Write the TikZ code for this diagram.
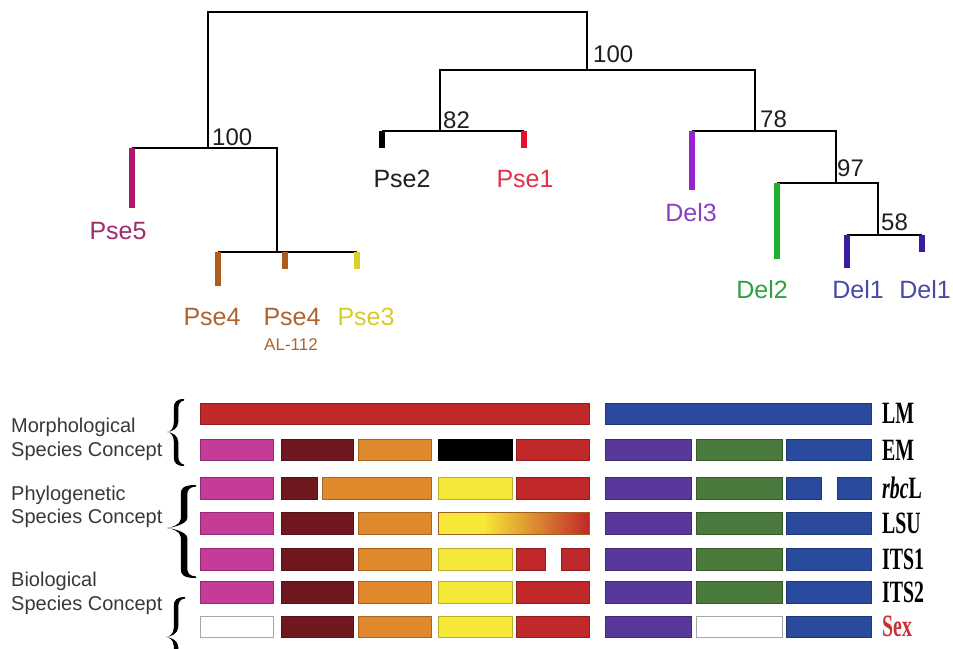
\documentclass[tikz,border=0pt]{standalone}
\usepackage{fontspec}
\setmainfont{Liberation Sans}
\newfontfamily\genefont{Liberation Serif}

% tree leaf colours
\definecolor{cPseFive}{HTML}{B0186E}
\definecolor{tPseFive}{HTML}{9C2C70}
\definecolor{cPseFour}{HTML}{B05A1C}
\definecolor{tPseFour}{HTML}{AC6430}
\definecolor{cPseThree}{HTML}{D8D030}
\definecolor{tPseThree}{HTML}{D6CC28}
\definecolor{cPseOne}{HTML}{E8102A}
\definecolor{tPseOne}{HTML}{E0304A}
\definecolor{cDelThree}{HTML}{9A20D0}
\definecolor{tDelThree}{HTML}{8A40C0}
\definecolor{cDelTwo}{HTML}{20B030}
\definecolor{tDelTwo}{HTML}{30A040}
\definecolor{cDelOne}{HTML}{3A1AA0}
\definecolor{tDelOne}{HTML}{4848A8}
% bar colours
\definecolor{barPink}{HTML}{C43C98}
\definecolor{barDark}{HTML}{701820}
\definecolor{barOrange}{HTML}{E0882C}
\definecolor{barYellow}{HTML}{F6E838}
\definecolor{barRed}{HTML}{C0282A}
\definecolor{barPurple}{HTML}{58389A}
\definecolor{barGreen}{HTML}{4A7A3C}
\definecolor{barBlue}{HTML}{2A4A9E}
\definecolor{sexRed}{HTML}{C83034}

% one coloured cell of the character table: x-from, x-to, row centre, colour
\newcommand\cell[4]{\path[cellbox=#4] (#1,#3-10.75) rectangle (#2,#3+10.75);}
% empty (white) cell
\newcommand\blankcell[3]{\path[blankbox] (#1,#3-10.75) rectangle (#2,#3+10.75);}
% tapered curly bracket: end x, spine x, tip x, top y, tip y, bottom y, stroke width
\newcommand\curlybrace[7]{%
  \fill[black] (#1,#4) .. controls (#2-#7/2+3,#4) and (#2-#7/2,#4+3) .. (#2-#7/2,#4+9)
    -- (#2-#7/2,#5-9) .. controls (#2-#7/2,#5-3) and (#3+3,#5) .. (#3,#5)
    .. controls (#3+3,#5) and (#2-#7/2,#5+3) .. (#2-#7/2,#5+9)
    -- (#2-#7/2,#6-9) .. controls (#2-#7/2,#6-3) and (#2-#7/2+3,#6) .. (#1,#6)
    -- (#1,#6-1.5) .. controls (#2+#7/2+2,#6-2) and (#2+#7/2,#6-5) .. (#2+#7/2,#6-10)
    -- (#2+#7/2,#5+10) .. controls (#2+#7/2,#5+4) and (#3+6,#5+0.5) .. (#3,#5)
    .. controls (#3+6,#5-0.5) and (#2+#7/2,#5-4) .. (#2+#7/2,#5-10)
    -- (#2+#7/2,#4+10) .. controls (#2+#7/2,#4+5) and (#2+#7/2+2,#4+2) .. (#1,#4+1.5)
    -- cycle;}

\begin{document}
\begin{tikzpicture}[x=1pt,y=-1pt,
  branch/.style={line width=2.7pt, black},
  leafbar/.style={line width=6.5pt, #1},
  leaflbl/.style={font=\fontsize{25}{30}\selectfont, anchor=base, inner sep=0pt},
  boot/.style={font=\fontsize{24}{28}\selectfont, anchor=base west, inner sep=0pt, text=black!88},
  concept/.style={font=\fontsize{20}{24}\selectfont, anchor=base west, inner sep=0pt, text=black!78},
  gene/.style={font=\genefont\bfseries\fontsize{31}{33}\selectfont, anchor=west, inner sep=0pt},
  cellbox/.style={fill=#1, draw=#1!75!black, line width=0.6pt},
  blankbox/.style={fill=white, draw=black!35, line width=0.8pt},
]
\useasboundingbox (0,0) rectangle (953,648);
\clip (0,0) rectangle (953,648);

% ---------------- phylogenetic tree ----------------
\coordinate (root) at (398,12);
\coordinate (nP)   at (208,148);
\coordinate (nPB)  at (277,252);
\coordinate (nR)   at (587,70);
\coordinate (n82)  at (440,131);
\coordinate (n78)  at (755,131);
\coordinate (n97)  at (836,183);
\coordinate (n58)  at (878,235);

\coordinate (pse5)  at (132,148);
\coordinate (pse4a) at (218,252);
\coordinate (pse4b) at (285,252);
\coordinate (pse3)  at (357,252);
\coordinate (pse2)  at (382,131);
\coordinate (pse1)  at (524,131);
\coordinate (del3)  at (692,131);
\coordinate (del2)  at (777,183);
\coordinate (del1a) at (847,235);
\coordinate (del1b) at (922,235);

\draw[branch] (nP) |- (root) -| (nR);
\draw[branch] (pse5) -- (nP) -| (nPB);
\draw[branch] (nPB) -- (pse4a) (nPB) -- (pse3);
\draw[branch] (n82) |- (nR) -| (n78);
\draw[branch] (pse2) -- (n82) -- (pse1);
\draw[branch] (del3) -- (n78) -| (n97);
\draw[branch] (del2) -- (n97) -| (n58);
\draw[branch] (del1a) -- (n58) -- (del1b);

\draw[leafbar=cPseFive]  (pse5)  -- ++(0,60);
\draw[leafbar=cPseFour]  (pse4a) -- ++(0,34);
\draw[leafbar=cPseFour]  (pse4b) -- ++(0,17);
\draw[leafbar=cPseThree] (pse3)  -- ++(0,17);
\draw[leafbar=black]     (pse2)  -- ++(0,17);
\draw[leafbar=cPseOne]   (pse1)  -- ++(0,17);
\draw[leafbar=cDelThree] (del3)  -- ++(0,59);
\draw[leafbar=cDelTwo]   (del2)  -- ++(0,76);
\draw[leafbar=cDelOne]   (del1a) -- ++(0,33);
\draw[leafbar=cDelOne]   (del1b) -- ++(0,17);

% support values
\node[boot] (bP)   at (212,145) {100};
\node[boot] (bR)   at (593,62)  {100};
\node[boot] (b82)  at (443,128) {82};
\node[boot] (b78)  at (760,127) {78};
\node[boot] (b97)  at (837,176) {97};
\node[boot] (b58)  at (881,230) {58};

% leaf names
\node[leaflbl, text=tPseFive]  (lPse5)  at (118,239) {Pse5};
\node[leaflbl, text=tPseFour]  (lPse4a) at (212,325) {Pse4};
\node[leaflbl, text=tPseFour]  (lPse4b) at (292,325) {Pse4};
\node[font=\fontsize{17}{20}\selectfont, anchor=base, inner sep=0pt, text=tPseFour] (lAL) at (291,350) {AL-112};
\node[leaflbl, text=tPseThree] (lPse3)  at (366,325) {Pse3};
\node[leaflbl, text=black!88]  (lPse2)  at (402,187) {Pse2};
\node[leaflbl, text=tPseOne]   (lPse1)  at (525,187) {Pse1};
\node[leaflbl, text=tDelThree] (lDel3)  at (691,221) {Del3};
\node[leaflbl, text=tDelTwo]   (lDel2)  at (762,298) {Del2};
\node[leaflbl, text=tDelOne]   (lDel1a) at (858,298) {Del1};
\node[leaflbl, text=tDelOne]   (lDel1b) at (925,298) {Del1};

% ---------------- character table ----------------
\def\rLM{413.8}\def\rEM{450}\def\rRBC{488.2}\def\rLSU{523.3}
\def\rITSa{559.2}\def\rITSb{592.5}\def\rSEX{626.7}

% LM
\cell{200}{589}{\rLM}{barRed}
\cell{605}{871}{\rLM}{barBlue}
% EM
\cell{200}{273}{\rEM}{barPink}
\cell{281}{353}{\rEM}{barDark}
\cell{358}{431}{\rEM}{barOrange}
\cell{438}{512}{\rEM}{black}
\cell{516}{589}{\rEM}{barRed}
\cell{605}{691}{\rEM}{barPurple}
\cell{696}{782}{\rEM}{barGreen}
\cell{786}{871}{\rEM}{barBlue}
% rbcL
\cell{200}{273}{\rRBC}{barPink}
\cell{281}{317}{\rRBC}{barDark}
\cell{322}{431}{\rRBC}{barOrange}
\cell{438}{512}{\rRBC}{barYellow}
\cell{516}{589}{\rRBC}{barRed}
\cell{605}{691}{\rRBC}{barPurple}
\cell{696}{782}{\rRBC}{barGreen}
\cell{786}{821}{\rRBC}{barBlue}
\cell{837}{871}{\rRBC}{barBlue}
% LSU
\cell{200}{273}{\rLSU}{barPink}
\cell{281}{353}{\rLSU}{barDark}
\cell{358}{431}{\rLSU}{barOrange}
\fill[barYellow] (438,\rLSU-10.75) rectangle (484,\rLSU+10.75);
\shade[left color=barYellow, middle color=barOrange, right color=barRed]
  (483.5,\rLSU-10.75) rectangle (589,\rLSU+10.75);
\draw[barOrange!70!black, line width=0.6pt] (438,\rLSU-10.75) rectangle (589,\rLSU+10.75);
\cell{605}{691}{\rLSU}{barPurple}
\cell{696}{782}{\rLSU}{barGreen}
\cell{786}{871}{\rLSU}{barBlue}
% ITS1
\cell{200}{273}{\rITSa}{barPink}
\cell{281}{353}{\rITSa}{barDark}
\cell{358}{431}{\rITSa}{barOrange}
\cell{438}{512}{\rITSa}{barYellow}
\cell{516}{545}{\rITSa}{barRed}
\cell{561}{589}{\rITSa}{barRed}
\cell{605}{691}{\rITSa}{barPurple}
\cell{696}{782}{\rITSa}{barGreen}
\cell{786}{871}{\rITSa}{barBlue}
% ITS2
\cell{200}{273}{\rITSb}{barPink}
\cell{281}{353}{\rITSb}{barDark}
\cell{358}{431}{\rITSb}{barOrange}
\cell{438}{512}{\rITSb}{barYellow}
\cell{516}{589}{\rITSb}{barRed}
\cell{605}{691}{\rITSb}{barPurple}
\cell{696}{782}{\rITSb}{barGreen}
\cell{786}{871}{\rITSb}{barBlue}
% Sex
\blankcell{200}{273}{\rSEX}
\cell{281}{353}{\rSEX}{barDark}
\cell{358}{431}{\rSEX}{barOrange}
\cell{438}{512}{\rSEX}{barYellow}
\cell{516}{589}{\rSEX}{barRed}
\cell{605}{691}{\rSEX}{barPurple}
\blankcell{696}{782}{\rSEX}
\cell{786}{871}{\rSEX}{barBlue}

% row names
\node[gene] (gLM)   at (882,\rLM)   {\scalebox{0.64}[1]{LM}};
\node[gene] (gEM)   at (882,\rEM)   {\scalebox{0.64}[1]{EM}};
\node[gene] (gRBC)  at (882,\rRBC)  {\scalebox{0.64}[1]{\itshape rbc\upshape L}};
\node[gene] (gLSU)  at (882,\rLSU)  {\scalebox{0.64}[1]{LSU}};
\node[gene] (gITSa) at (882,\rITSa) {\scalebox{0.64}[1]{ITS1}};
\node[gene] (gITSb) at (882,\rITSb) {\scalebox{0.64}[1]{ITS2}};
\node[gene, text=sexRed] (gSEX) at (882,\rSEX) {\scalebox{0.64}[1]{Sex}};

% species concepts
\node[concept] (morA) at (11,432) {Morphological};
\node[concept] (morB) at (11,456) {Species Concept};
\node[concept] (phyA) at (11,500) {Phylogenetic};
\node[concept] (phyB) at (11,523) {Species Concept};
\node[concept] (bioA) at (11,586) {Biological};
\node[concept] (bioB) at (11,610) {Species Concept};

% curly brackets
\curlybrace{184}{176}{167}{399}{432}{466}{4.5}
\curlybrace{196}{184}{167}{485}{528}{578}{6.5}
\curlybrace{185}{176}{166}{597}{637}{677}{4.5}
\end{tikzpicture}
\end{document}
